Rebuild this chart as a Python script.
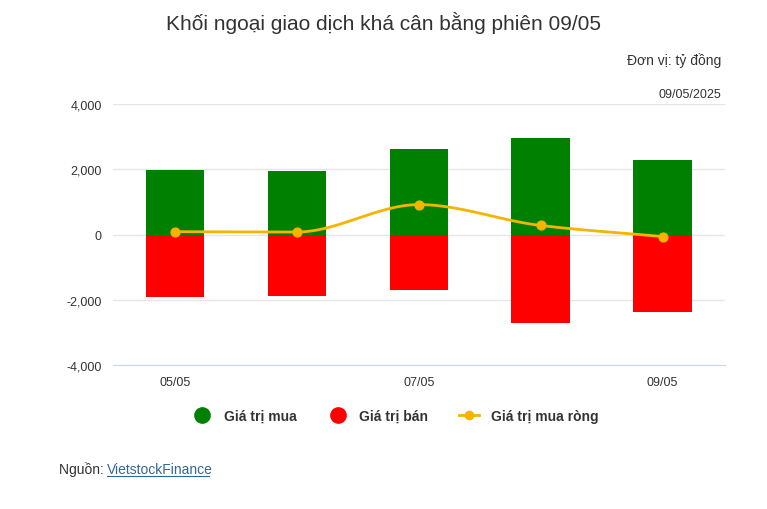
import numpy as np, pandas as pd, seaborn as sns, matplotlib.pyplot as plt
from matplotlib.lines import Line2D
plt.rcParams["font.family"] = "Liberation Sans"

dates = ["05/05", "06/05", "07/05", "08/05", "09/05"]
buy = [1990, 1940, 2610, 2950, 2300]
sell = [-1910, -1880, -1690, -2710, -2370]
net = [90, 80, 920, 280, -60]
tick_labels = ["05/05", "", "07/05", "", "09/05"]

df = pd.DataFrame({"d": dates, "buy": buy, "sell": sell, "net": net})
fig = plt.figure(figsize=(7.67, 5.10), dpi=100)
ax = fig.add_axes([0.147, 0.282, 0.798, 0.512])
sns.barplot(data=df, x="d", y="buy", color="#008000", width=0.48, saturation=1, ax=ax, zorder=2)
sns.barplot(data=df, x="d", y="sell", color="#ff0000", width=0.48, saturation=1, ax=ax, zorder=2)

x = np.arange(len(net)); y = np.array(net, float)
d = np.diff(y); m = np.zeros_like(y)
for i in range(1, len(y)-1):
    m[i] = 0 if d[i-1]*d[i] <= 0 else 2/(1/d[i-1]+1/d[i])
m[0], m[-1] = d[0], d[-1]
xs, ys = [], []
for i in range(len(y)-1):
    t = np.linspace(0, 1, 30)
    h00 = 2*t**3-3*t**2+1; h10 = t**3-2*t**2+t; h01 = -2*t**3+3*t**2; h11 = t**3-t**2
    xs.append(x[i]+t); ys.append(h00*y[i]+h10*m[i]+h01*y[i+1]+h11*m[i+1])
ax.plot(np.concatenate(xs), np.concatenate(ys), color="#f5b400", lw=2, zorder=3)
ax.scatter(x, y, color="#f5b400", s=40, zorder=4)

ax.set_ylim(-4000, 4000); ax.set_xlim(-0.51, 4.51)
ax.set_yticks(range(-4000, 4001, 2000))
ax.set_yticklabels([f"{v:,}" for v in range(-4000, 4001, 2000)], fontsize=9, color="#333333")
ax.set_xticks(x); ax.set_xticklabels(tick_labels, fontsize=9, color="#333333")
ax.tick_params(length=0, pad=8)
ax.set_xlabel(""); ax.set_ylabel("")
ax.grid(axis="y", color="#e6e6e6", lw=1, zorder=0)
for s in ["top", "right", "left"]: ax.spines[s].set_visible(False)
ax.spines["bottom"].set_color("#ccd6eb")
ax.set_axisbelow(True)

fig.text(0.5, 0.942, "Khối ngoại giao dịch khá cân bằng phiên 09/05", ha="center", fontsize=15, color="#333333")
fig.text(0.94, 0.873, "Đơn vị: tỷ đồng", ha="right", fontsize=10, color="#333333")
fig.text(0.94, 0.807, "09/05/2025", ha="right", fontsize=9, color="#333333")
fig.text(0.077, 0.07, "Nguồn: ", fontsize=10, color="#333333")
fig.text(0.139, 0.07, "VietstockFinance", fontsize=10, color="#336699")
fig.add_artist(Line2D([0.139, 0.272], [0.065, 0.065], color="#336699", lw=0.8))

handles = [Line2D([], [], marker="o", ls="", color="#008000", ms=11),
           Line2D([], [], marker="o", ls="", color="#ff0000", ms=11),
           Line2D([], [], marker="o", color="#f5b400", ms=6, lw=2)]
leg = fig.legend(handles, ["Giá trị mua", "Giá trị bán", "Giá trị mua ròng"], loc="center",
           bbox_to_anchor=(0.515, 0.183), ncol=3, frameon=False,
           prop={"weight": "bold", "size": 10}, handlelength=1.5, columnspacing=2.2)
for t in leg.get_texts(): t.set_color("#333333")
fig.savefig("out.png", dpi=100)
